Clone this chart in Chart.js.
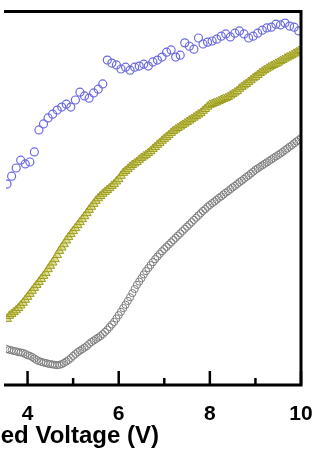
<!DOCTYPE html>
<html lang="en">
<head>
  <meta charset="UTF-8">
  <title>Applied Voltage response</title>
  <script src="https://cdn.jsdelivr.net/npm/chart.js"></script>
  <style>
    body { margin: 0; background: #fff; }
    #chart { display: block; }
  </style>
</head>
<body>
  <canvas id="chart" width="322" height="454"></canvas>

  <script>
    // x ticks (only the even ones carry a label)
    const tickValues = [4, 5, 6, 7, 8, 9, 10];
    const labelledTicks = [4, 6, 8, 10];

    // fine voltage grid used by the gray and olive series
    const voltage = [
      3.55, 3.60, 3.65, 3.70, 3.75, 3.80, 3.85, 3.90, 3.95, 4.00,
      4.05, 4.10, 4.15, 4.20, 4.25, 4.30, 4.35, 4.40, 4.45, 4.50,
      4.55, 4.60, 4.65, 4.70, 4.75, 4.80, 4.85, 4.90, 4.95, 5.00,
      5.05, 5.10, 5.15, 5.20, 5.25, 5.30, 5.35, 5.40, 5.45, 5.50,
      5.55, 5.60, 5.65, 5.70, 5.75, 5.80, 5.85, 5.90, 5.95, 6.00,
      6.05, 6.10, 6.15, 6.20, 6.25, 6.30, 6.35, 6.40, 6.45, 6.50,
      6.55, 6.60, 6.65, 6.70, 6.75, 6.80, 6.85, 6.90, 6.95, 7.00,
      7.05, 7.10, 7.15, 7.20, 7.25, 7.30, 7.35, 7.40, 7.45, 7.50,
      7.55, 7.60, 7.65, 7.70, 7.75, 7.80, 7.85, 7.90, 7.95, 8.00,
      8.05, 8.10, 8.15, 8.20, 8.25, 8.30, 8.35, 8.40, 8.45, 8.50,
      8.55, 8.60, 8.65, 8.70, 8.75, 8.80, 8.85, 8.90, 8.95, 9.00,
      9.05, 9.10, 9.15, 9.20, 9.25, 9.30, 9.35, 9.40, 9.45, 9.50,
      9.55, 9.60, 9.65, 9.70, 9.75, 9.80, 9.85, 9.90, 9.95, 10.00
    ];

    // gray open circles
    const grayValues = [
      9.6, 9.4, 9.3, 9.1, 9.0, 8.8, 8.7, 8.6, 8.3, 8.0,
      7.8, 7.5, 7.1, 6.7, 6.4, 6.2, 6.0, 5.9, 5.7, 5.6,
      5.5, 5.4, 5.3, 5.4, 5.6, 5.9, 6.3, 6.7, 7.2, 7.8,
      8.3, 8.8, 9.2, 9.6, 10.0, 10.4, 11.0, 11.5, 11.9, 12.3,
      12.7, 13.1, 13.6, 14.2, 14.8, 15.5, 16.2, 16.9, 17.8, 18.7,
      19.6, 20.6, 21.5, 22.5, 23.5, 24.6, 25.7, 26.8, 27.7, 28.6,
      29.6, 30.5, 31.3, 32.1, 32.9, 33.7, 34.4, 35.1, 35.8, 36.4,
      37.0, 37.6, 38.2, 38.8, 39.4, 40.0, 40.6, 41.2, 41.8, 42.4,
      43.0, 43.6, 44.2, 44.8, 45.4, 46.0, 46.6, 47.1, 47.7, 48.2,
      48.7, 49.1, 49.6, 50.1, 50.5, 51.0, 51.5, 51.9, 52.4, 52.9,
      53.3, 53.8, 54.3, 54.7, 55.2, 55.7, 56.1, 56.6, 57.1, 57.6,
      58.0, 58.4, 58.8, 59.2, 59.6, 60.0, 60.4, 60.8, 61.2, 61.6,
      62.0, 62.4, 62.9, 63.3, 63.8, 64.2, 64.7, 65.2, 65.6, 66.1
    ];

    // olive triangles
    const oliveValues = [
      17.7, 18.5, 19.0, 19.5, 20.0, 20.6, 21.3, 22.0, 22.8, 23.6,
      24.4, 25.2, 26.0, 26.8, 27.6, 28.4, 29.2, 30.0, 31.0, 31.9,
      32.8, 33.7, 34.8, 35.9, 36.8, 37.7, 38.7, 39.6, 40.4, 41.2,
      42.0, 42.8, 43.6, 44.4, 45.2, 46.0, 46.9, 47.7, 48.5, 49.3,
      50.0, 50.6, 51.2, 51.7, 52.2, 52.7, 53.3, 53.8, 54.5, 55.1,
      56.0, 56.8, 57.3, 57.8, 58.4, 58.9, 59.3, 59.7, 60.3, 60.8,
      61.2, 61.6, 62.1, 62.6, 63.2, 63.7, 64.3, 64.8, 65.4, 65.9,
      66.4, 66.9, 67.5, 68.0, 68.4, 68.8, 69.2, 69.6, 70.0, 70.4,
      70.8, 71.2, 71.6, 72.0, 72.4, 72.8, 73.4, 73.9, 74.5, 75.0,
      75.2, 75.5, 75.7, 76.0, 76.3, 76.6, 76.8, 77.1, 77.5, 77.9,
      78.3, 78.7, 79.3, 79.8, 80.2, 80.6, 81.1, 81.6, 82.1, 82.5,
      83.0, 83.5, 83.9, 84.3, 84.7, 85.0, 85.4, 85.7, 86.0, 86.3,
      86.7, 87.0, 87.4, 87.7, 88.0, 88.3, 88.7, 89.0, 89.4, 89.7
    ];

    // blue open circles, sampled more coarsely
    const blueVoltage = [
      3.55, 3.65, 3.75, 3.85, 3.95, 4.05, 4.15, 4.25, 4.35, 4.45,
      4.55, 4.65, 4.75, 4.85, 4.95, 5.05, 5.15, 5.25, 5.35, 5.45,
      5.55, 5.65, 5.75, 5.85, 5.95, 6.05, 6.15, 6.25, 6.35, 6.45,
      6.55, 6.65, 6.75, 6.85, 6.95, 7.05, 7.15, 7.25, 7.35, 7.45,
      7.55, 7.65, 7.75, 7.85, 7.95, 8.05, 8.15, 8.25, 8.35, 8.45,
      8.55, 8.65, 8.75, 8.85, 8.95, 9.05, 9.15, 9.25, 9.35, 9.45,
      9.55, 9.65, 9.75, 9.85, 9.95
    ];
    const blueValues = [
      53.8, 55.9, 58.1, 60.2, 59.2, 59.7, 62.4, 68.3, 69.9, 71.5,
      72.5, 73.6, 74.4, 75.2, 74.4, 76.3, 78.4, 77.4, 76.8, 78.2,
      79.2, 80.6, 87.0, 86.2, 85.7, 84.6, 85.1, 84.3, 85.1, 85.4,
      85.9, 85.4, 86.5, 87.0, 87.8, 89.1, 89.7, 87.8, 88.3, 91.6,
      90.7, 89.9, 92.9, 91.3, 91.8, 92.1, 92.6, 93.4, 94.0, 93.2,
      94.2, 94.8, 94.0, 92.9, 93.4, 94.2, 95.0, 95.6, 95.8, 96.6,
      96.4, 96.9, 96.1, 95.8, 94.8
    ];

    const toPoints = (xs, ys) => xs.map((x, i) => ({ x: x, y: ys[i] }));

    const FONT = '"Liberation Sans", Arial, sans-serif';

    // frame, inward tick marks, tick labels and the axis title
    const framePlugin = {
      id: 'frame',
      afterDraw(chart) {
        const { ctx, chartArea: a, scales: { x } } = chart;
        ctx.save();
        ctx.strokeStyle = '#000';
        ctx.lineWidth = 3;
        ctx.beginPath();
        ctx.moveTo(a.left - 2, a.top);
        ctx.lineTo(a.right, a.top);
        ctx.lineTo(a.right, a.bottom);
        ctx.lineTo(a.left - 2, a.bottom);
        ctx.stroke();

        ctx.lineWidth = 2.5;
        ctx.fillStyle = '#000';
        ctx.font = 'bold 21px ' + FONT;
        ctx.textAlign = 'center';
        ctx.textBaseline = 'alphabetic';
        tickValues.forEach(v => {
          const px = x.getPixelForValue(v);
          const major = labelledTicks.includes(v);
          ctx.beginPath();
          ctx.moveTo(px, a.bottom);
          ctx.lineTo(px, a.bottom - (major ? 14 : 7));
          ctx.stroke();
          if (major) ctx.fillText(String(v), px, a.bottom + 35);
        });

        ctx.font = 'bold 24px ' + FONT;
        ctx.textAlign = 'right';
        ctx.fillText('Applied Voltage (V)', a.left + 153, a.bottom + 58);
        ctx.restore();
      }
    };

    new Chart(document.getElementById('chart'), {
      type: 'scatter',
      data: {
        datasets: [
          {
            label: 'gray',
            data: toPoints(voltage, grayValues),
            pointStyle: 'circle',
            pointRadius: 3.6,
            borderWidth: 1,
            borderColor: '#7d7d7d',
            backgroundColor: 'rgba(255,255,255,0)'
          },
          {
            label: 'olive',
            data: toPoints(voltage, oliveValues),
            pointStyle: 'triangle',
            pointRadius: 5,
            borderWidth: 1,
            borderColor: '#9c9c22',
            backgroundColor: 'rgba(200,200,70,0.55)'
          },
          {
            label: 'blue',
            data: toPoints(blueVoltage, blueValues),
            pointStyle: 'circle',
            pointRadius: 4,
            borderWidth: 1.2,
            borderColor: '#6b6be0',
            backgroundColor: 'rgba(255,255,255,0)'
          }
        ]
      },
      options: {
        responsive: false,
        animation: false,
        layout: { padding: { left: 0, right: 21, top: 11.5, bottom: 69 } },
        plugins: {
          legend: { display: false },
          tooltip: { enabled: false }
        },
        scales: {
          x: {
            type: 'linear',
            display: false,
            min: 3.527,
            max: 10
          },
          y: {
            display: false,
            min: 0,
            max: 100
          }
        }
      },
      plugins: [framePlugin]
    });
  </script>
</body>
</html>
